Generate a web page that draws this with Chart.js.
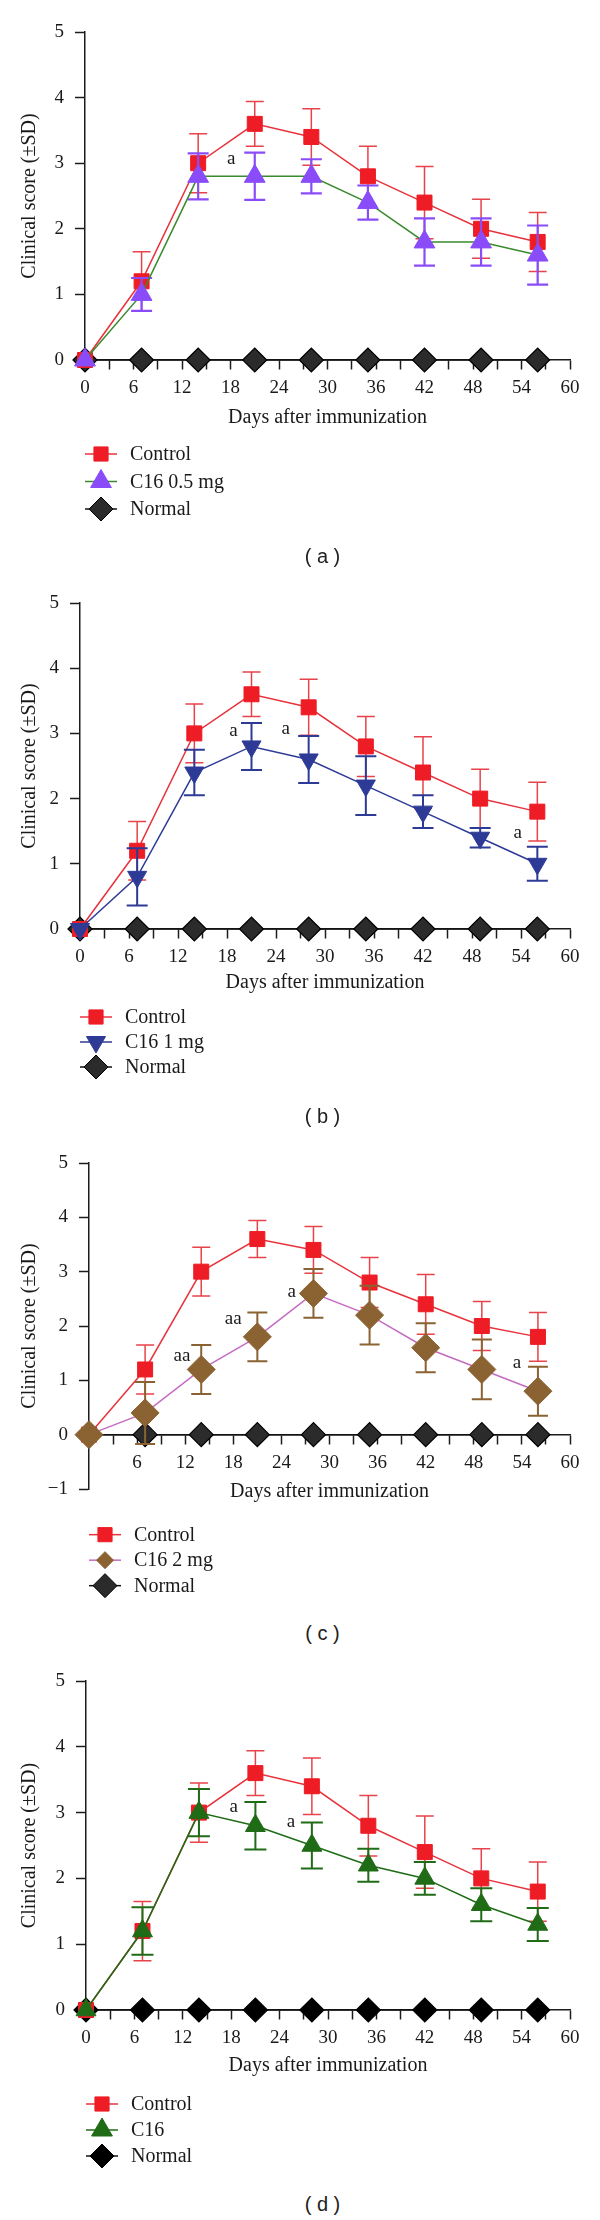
<!DOCTYPE html>
<html>
<head>
<meta charset="utf-8">
<script src="https://cdn.jsdelivr.net/npm/chart.js@4.4.1/dist/chart.umd.min.js"></script>
<style>
  html, body { margin: 0; padding: 0; background: #fff; }
  #page { position: relative; width: 600px; height: 2220px; overflow: hidden; }
  canvas { position: absolute; left: 0; }
  .tag { position: absolute; left: 0; width: 645px; text-align: center;
         font: 20px 'Liberation Sans', Arial, sans-serif; line-height: 24px; color: #222; }
</style>
</head>
<body>
<div id="page">
  <canvas id="chartA" width="600" height="545" style="top:0px"></canvas>
  <canvas id="chartB" width="600" height="530" style="top:560px"></canvas>
  <canvas id="chartC" width="600" height="490" style="top:1120px"></canvas>
  <canvas id="chartD" width="600" height="530" style="top:1650px"></canvas>
  <div class="tag" style="top:544px">( a )</div>
  <div class="tag" style="top:1104px">( b )</div>
  <div class="tag" style="top:1621px">( c )</div>
  <div class="tag" style="top:2192px">( d )</div>
</div>
<script>
// ---- data ----
var days = [0, 7, 14, 21, 28, 35, 42, 49, 56];
var xTickLabels = [0, 6, 12, 18, 24, 30, 36, 42, 48, 54, 60];
var xTickLabelsC = [6, 12, 18, 24, 30, 36, 42, 48, 54, 60];
var yTickLabels = [0, 1, 2, 3, 4, 5];
var yTickLabelsC = [-1, 0, 1, 2, 3, 4, 5];

var normalScore = [0, 0, 0, 0, 0, 0, 0, 0, 0];
var controlScore = [0, 1.2, 3.0, 3.6, 3.4, 2.8, 2.4, 2.0, 1.8];
var controlSD = [0, 0.45, 0.45, 0.34, 0.43, 0.46, 0.55, 0.45, 0.45];

var c16Half = [0, 1.0, 2.8, 2.8, 2.8, 2.4, 1.8, 1.8, 1.6];
var c16HalfSD = [0, 0.25, 0.35, 0.36, 0.26, 0.26, 0.36, 0.36, 0.45];

var c16One = [0, 0.8, 2.4, 2.8, 2.6, 2.2, 1.8, 1.4, 1.0];
var c16OneSD = [0, 0.44, 0.35, 0.36, 0.36, 0.45, 0.25, 0.15, 0.26];

var c16Two = [0, 0.4, 1.2, 1.8, 2.6, 2.2, 1.6, 1.2, 0.8];
var c16TwoSD = [0, 0.57, 0.45, 0.45, 0.45, 0.54, 0.45, 0.55, 0.45];

var c16All = [0, 1.2, 3.0, 2.8, 2.5, 2.2, 2.0, 1.6, 1.3];
var c16AllSD = [0, 0.36, 0.36, 0.36, 0.35, 0.25, 0.25, 0.25, 0.25];

// significance letters: [day, score, text]
var marksA = [[18.1, 3.07, 'a']];
var marksB = [[18.8, 3.04, 'a'], [25.2, 3.07, 'a'], [53.6, 1.47, 'a']];
var marksC = [[11.6, 1.45, 'aa'], [18.0, 2.13, 'aa'], [25.3, 2.62, 'a'], [53.4, 1.31, 'a']];
var marksD = [[18.3, 3.09, 'a'], [25.4, 2.86, 'a']];

var serif = "'Liberation Serif', 'Times New Roman', serif";
var axisColor = '#1c1c1c';

var controlStyle = { label: 'Control', line: '#e8323c', fill: '#ee1c25', err: '#e8434b', errWidth: 1.5,
  style: 'rect', radius: 10.6, rotation: 0, cap: 9, legendRadius: 10 };
var normalStyle = { label: 'Normal', line: '#111', fill: '#2b2b2b', style: 'rectRot', radius: 12, rotation: 0, legendRadius: 12 };

var panels = [
  { id: 'chartA', axisLeft: 85, padTop: 32, padBottom: 185, yMin: 0, xLabels: xTickLabels, yLabels: yTickLabels,
    marks: marksA, titleOffset: 58, legendY: 94, legendGap: 27.5, normalFill: '#2b2b2b',
    treat: { label: 'C16 0.5\u2009mg', data: c16Half, sd: c16HalfSD, line: '#3a8a2e', fill: '#8a4cf8', err: '#8a4cf8',
             errWidth: 2.2, style: 'triangle', radius: 12, rotation: 0, cap: 10.5, legendRadius: 12 } },
  { id: 'chartB', axisLeft: 80, padTop: 43, padBottom: 161, yMin: 0, xLabels: xTickLabels, yLabels: yTickLabels,
    marks: marksB, titleOffset: 54, legendY: 88, legendGap: 25, normalFill: '#2b2b2b',
    treat: { label: 'C16 1\u2009mg', data: c16One, sd: c16OneSD, line: '#2e3b96', fill: '#2e3b96', err: '#2e3b96',
             errWidth: 2, style: 'triangle', radius: 11, rotation: 180, cap: 10.5, legendRadius: 11 } },
  { id: 'chartC', axisLeft: 89, padTop: 43, padBottom: 121, yMin: -1, xLabels: xTickLabelsC, yLabels: yTickLabelsC,
    marks: marksC, titleOffset: 57, legendY: 100, legendGap: 25.5, normalFill: '#2b2b2b',
    treat: { label: 'C16 2\u2009mg', data: c16Two, sd: c16TwoSD, line: '#c46cc2', fill: '#8b6232', err: '#8b6232',
             errWidth: 2, style: 'rectRot', radius: 14, rotation: 0, cap: 10, legendRadius: 8.5 } },
  { id: 'chartD', axisLeft: 86, padTop: 31, padBottom: 170, yMin: 0, xLabels: xTickLabels, yLabels: yTickLabels,
    marks: marksD, titleOffset: 56, legendY: 94, legendGap: 26, normalFill: '#000',
    treat: { label: 'C16', data: c16All, sd: c16AllSD, line: '#1f6b16', fill: '#1f6b16', err: '#1f6b16',
             errWidth: 2, style: 'triangle', radius: 11.5, rotation: 0, cap: 11, legendRadius: 12 } }
];

function toPoints(values) {
  return days.map(function (d, i) { return { x: d, y: values[i] }; });
}

function drawErrorBars(chart, ds) {
  var ctx = chart.ctx, xs = chart.scales.x, ys = chart.scales.y;
  ctx.save();
  ctx.strokeStyle = ds.errColor;
  ctx.lineWidth = ds.errWidth;
  ds.sd.forEach(function (s, i) {
    if (!s) return;
    var pt = ds.data[i];
    var x = xs.getPixelForValue(pt.x);
    var yTop = ys.getPixelForValue(pt.y + s);
    var yBot = ys.getPixelForValue(pt.y - s);
    ctx.beginPath();
    ctx.moveTo(x, yTop); ctx.lineTo(x, yBot);
    ctx.moveTo(x - ds.cap, yTop); ctx.lineTo(x + ds.cap, yTop);
    ctx.moveTo(x - ds.cap, yBot); ctx.lineTo(x + ds.cap, yBot);
    ctx.stroke();
  });
  ctx.restore();
}

function legendMarker(ctx, st, fill, x, y) {
  ctx.fillStyle = fill;
  ctx.strokeStyle = st.style === 'rectRot' && st.label === 'Normal' ? '#000' : fill;
  ctx.lineWidth = 1;
  Chart.helpers.drawPoint(ctx, { pointStyle: st.style, radius: st.legendRadius, rotation: st.rotation, borderWidth: 1 }, x, y);
}

function makeExtras(p) {
  return {
    id: 'extras',
    beforeDatasetDraw: function (chart, args) {
      var ds = chart.data.datasets[args.index];
      if (ds.sd) drawErrorBars(chart, ds);
    },
    afterDatasetsDraw: function (chart) {
      var ctx = chart.ctx, xs = chart.scales.x, ys = chart.scales.y;
      var area = chart.chartArea;
      var y0 = ys.getPixelForValue(0);
      ctx.save();
      ctx.fillStyle = '#1a1a1a';
      ctx.textAlign = 'center';
      ctx.textBaseline = 'middle';
      ctx.font = '19px ' + serif;
      p.marks.forEach(function (m) {
        ctx.fillText(m[2], xs.getPixelForValue(m[0]), ys.getPixelForValue(m[1]));
      });
      ctx.font = '20px ' + serif;
      ctx.fillText('Days after immunization', (area.left + area.right) / 2, y0 + p.titleOffset);

      // legend: line + marker + label, one per row
      var items = [
        [controlStyle, controlStyle.fill],
        [p.treat, p.treat.fill],
        [normalStyle, p.normalFill]
      ];
      ctx.textAlign = 'left';
      items.forEach(function (it, k) {
        var st = it[0];
        var y = y0 + p.legendY + k * p.legendGap;
        var lx = area.left;
        ctx.strokeStyle = st.line;
        ctx.lineWidth = 1.5;
        ctx.beginPath();
        ctx.moveTo(lx, y); ctx.lineTo(lx + 32, y);
        ctx.stroke();
        legendMarker(ctx, st, it[1], lx + 16, y);
        ctx.fillStyle = '#1a1a1a';
        ctx.font = '20px ' + serif;
        ctx.fillText(st.label.replace('\u2009', ' '), lx + 45, y + 1);
      });
      ctx.restore();
    }
  };
}

function buildChart(p) {
  var t = p.treat;
  var datasets = [
    { label: t.label, data: toPoints(t.data), sd: t.sd, errColor: t.err, errWidth: t.errWidth, cap: t.cap,
      borderColor: t.line, borderWidth: 1.5, pointStyle: t.style, pointRadius: t.radius, pointRotation: t.rotation,
      pointBackgroundColor: t.fill, pointBorderColor: t.fill, pointBorderWidth: 1 },
    { label: 'Control', data: toPoints(controlScore), sd: controlSD, errColor: controlStyle.err,
      errWidth: controlStyle.errWidth, cap: controlStyle.cap,
      borderColor: controlStyle.line, borderWidth: 1.5, pointStyle: 'rect', pointRadius: controlStyle.radius,
      pointBackgroundColor: controlStyle.fill, pointBorderColor: controlStyle.fill, pointBorderWidth: 1 },
    { label: 'Normal', data: toPoints(normalScore),
      borderColor: '#111', borderWidth: 1.5, pointStyle: 'rectRot', pointRadius: normalStyle.radius,
      pointBackgroundColor: p.normalFill, pointBorderColor: '#000', pointBorderWidth: 1.2 }
  ];

  var ctx = document.getElementById(p.id).getContext('2d');
  return new Chart(ctx, {
    type: 'line',
    data: { datasets: datasets },
    options: {
      responsive: false,
      animation: false,
      events: [],
      layout: { padding: { top: p.padTop, right: 30, bottom: p.padBottom, left: 0 } },
      elements: { line: { tension: 0 } },
      datasets: { line: { clip: false } },
      plugins: { legend: { display: false }, tooltip: { enabled: false } },
      scales: {
        x: {
          type: 'linear',
          position: { y: 0 },
          min: 0, max: 60,
          border: { display: true, color: axisColor, width: 1.5 },
          grid: { drawOnChartArea: false, drawTicks: true, tickLength: 9, tickColor: axisColor, tickWidth: 1.5 },
          ticks: {
            stepSize: 3, autoSkip: false, maxRotation: 0, padding: 8, color: '#1a1a1a',
            font: { family: serif, size: 19 },
            callback: function (v) { return p.xLabels.indexOf(v) >= 0 ? String(v) : ''; }
          }
        },
        y: {
          type: 'linear',
          min: p.yMin, max: 5,
          afterFit: function (s) { s.width = p.axisLeft; },
          border: { display: true, color: axisColor, width: 1.5 },
          grid: { drawOnChartArea: false, drawTicks: true, tickLength: 10, tickColor: axisColor, tickWidth: 1.5 },
          ticks: {
            stepSize: 1, padding: 11, color: '#1a1a1a',
            font: { family: serif, size: 19 },
            callback: function (v) {
              if (p.yLabels.indexOf(v) < 0) return '';
              return v < 0 ? '\u2212' + Math.abs(v) : String(v);
            }
          },
          title: { display: true, text: 'Clinical score (\u00b1SD)', color: '#1a1a1a',
                   font: { family: serif, size: 20 }, padding: { top: 18, bottom: 0 } }
        }
      }
    },
    plugins: [makeExtras(p)]
  });
}

panels.forEach(buildChart);
</script>
</body>
</html>
